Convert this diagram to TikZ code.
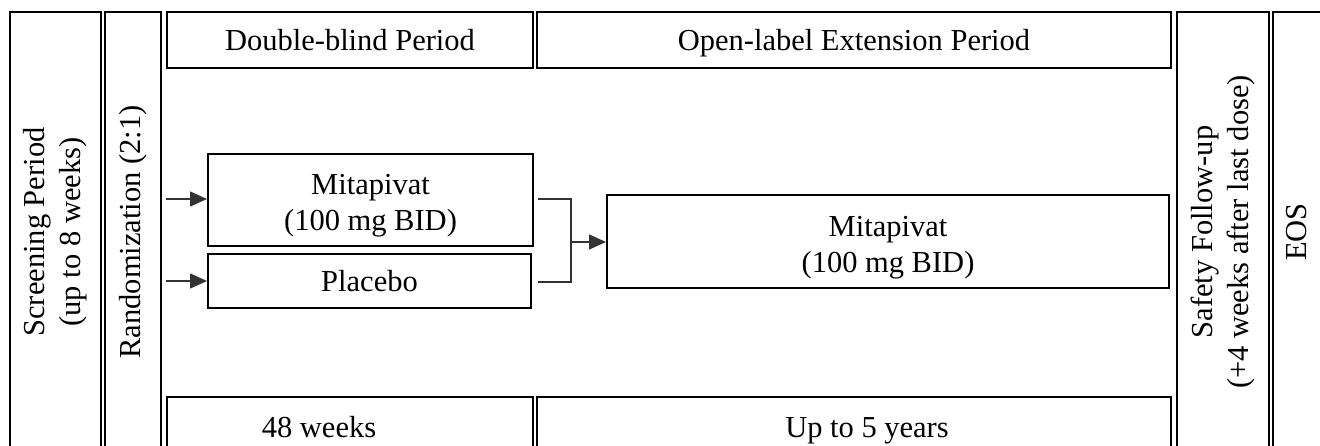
\documentclass[tikz,border=0pt]{standalone}
\usepackage{fontspec}
\setmainfont{Liberation Serif}
\usetikzlibrary{arrows.meta}
\begin{document}
\begin{tikzpicture}[x=1pt,y=-1pt,
  txt/.style={font=\fontsize{30.5}{36}\selectfont,inner sep=0pt,align=center},
  box/.style={txt,draw=black,line width=2pt},
  one/.style={text height=21pt,text depth=0pt},
  conn/.style={draw=black!80,line width=1.4pt},
  arr/.style={conn,-{Triangle[length=17pt,width=15pt]}}]
\useasboundingbox (0,0) rectangle (1320,446);
% vertical columns
\node[box,rotate=90,minimum width=440,minimum height=91] (scr) at (55.5,232) {Screening Period\\(up to 8 weeks)};
\node[box,rotate=90,minimum width=440,minimum height=56] (rnd) at (133,232) {Randomization (2:1)};
\node[box,rotate=90,minimum width=440,minimum height=92] (saf) at (1223,232) {Safety Follow-up\\(+4 weeks after last dose)};
\node[box,rotate=90,minimum width=440,minimum height=60] (eos) at (1303,232) {};
\node[txt,rotate=90] (eost) at (1297,232) {EOS};
% headers
\node[box,one,minimum width=366,minimum height=56] (dbh) at (350,40) {Double-blind Period};
\node[box,one,minimum width=634,minimum height=56] (olh) at (854,40) {Open-label Extension Period};
% bottom boxes
\node[box,minimum width=366,minimum height=60] (dbb) at (350,427) {};
\node[box,minimum width=634,minimum height=60] (olb) at (854,427) {};
\node[txt,anchor=base] (dbbt) at (319,437) {48 weeks};
\node[txt,anchor=base] (olbt) at (867,437) {Up to 5 years};
% arms
\node[box,minimum width=325,minimum height=92] (m1) at (370.5,200) {};
\node[box,minimum width=323,minimum height=54] (pl) at (369.5,281) {};
\node[box,minimum width=562,minimum height=93] (m2) at (888,241.5) {};
\node[txt] (m1t) at ([yshift=-6pt]m1.center) {Mitapivat\\(100 mg BID)};
\node[txt,one] (plt) at (pl.center) {Placebo};
\node[txt] (m2t) at ([yshift=-6pt]m2.center) {Mitapivat\\(100 mg BID)};
% arrows in
\coordinate (a1) at (166,199);
\coordinate (a2) at (166,281);
\draw[arr] (a1) -- (m1.west |- a1);
\draw[arr] (a2) -- (pl.west |- a2);
% bracket
\coordinate (b1) at (538,199);
\coordinate (b2) at (538,282);
\coordinate (bm) at (571,242);
\draw[conn] (b1) -- (bm |- b1) -- (bm |- b2) -- (b2);
\draw[arr] (bm) -- (m2.west |- bm);
\end{tikzpicture}
\end{document}
